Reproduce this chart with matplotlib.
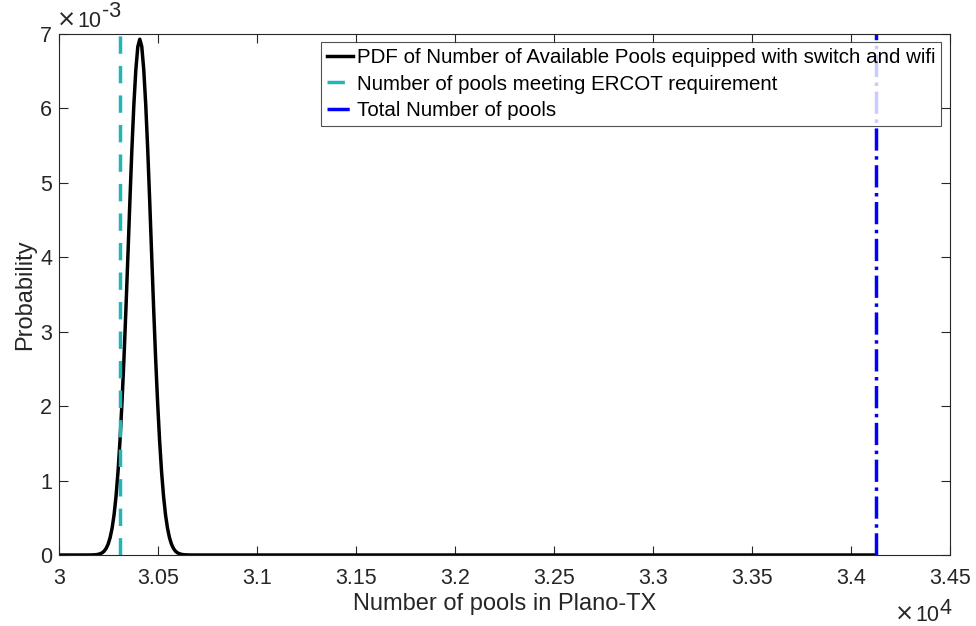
import matplotlib.pyplot as plt
from matplotlib.ticker import FuncFormatter

plt.rcParams['font.family'] = ['Liberation Sans', 'DejaVu Sans']

# PDF curve: number of pools and probability (x 1e-3)
pools = [30000, 30128, 30158, 30178, 30193, 30208, 30218, 30228, 30238, 30248,
         30258, 30268, 30278, 30288, 30298, 30308, 30318, 30328, 30338, 30348,
         30358, 30368, 30378, 30388, 30398, 30408, 30418, 30428, 30438, 30448,
         30458, 30468, 30478, 30488, 30498, 30508, 30518, 30528, 30538, 30548,
         30558, 30568, 30578, 30588, 30598, 30608, 30623, 30638, 30658, 30688,
         34126]
prob = [0, 0, 0.00056, 0.0024, 0.0065, 0.017, 0.030, 0.052, 0.089, 0.146,
        0.233, 0.36, 0.54, 0.79, 1.12, 1.54, 2.05, 2.64, 3.31, 4.03,
        4.76, 5.45, 6.05, 6.52, 6.83, 6.93, 6.83, 6.52, 6.05, 5.45,
        4.76, 4.03, 3.31, 2.64, 2.05, 1.54, 1.12, 0.79, 0.54, 0.36,
        0.233, 0.146, 0.089, 0.052, 0.030, 0.017, 0.0065, 0.0024, 0.00056, 0,
        0]

ercot_pools = 30308
total_pools = 34126

labels = ["PDF of Number of Available Pools equipped with switch and wifi",
          "Number of pools meeting ERCOT requirement",
          "Total Number of pools"]

fig = plt.figure(figsize=(9.76, 6.26), dpi=100)
ax = fig.add_axes([0.0605, 0.1134, 0.9125, 0.8323])

ax.plot(pools, prob, color='black', lw=2.5, label=labels[0])
ax.plot([ercot_pools, ercot_pools], [0, 7], color='#22b5b5', lw=2.5,
        dashes=(5, 3.5), label=labels[1])
ax.plot([total_pools, total_pools], [0, 7], color='#0000ff', lw=2.5,
        linestyle='-.', label=labels[2])

ax.set_xlim(30000, 34500)
ax.set_ylim(0, 7)
ax.set_xticks([30000 + 500 * i for i in range(10)])
ax.set_yticks(range(8))
ax.xaxis.set_major_formatter(FuncFormatter(lambda v, p: f"{v / 1e4:g}"))

gray = '#262626'
ax.tick_params(direction='in', top=True, right=True, length=6.5, width=0.8,
               labelsize=15.5, colors=gray)
ax.tick_params(axis='x', pad=9)
ax.tick_params(axis='y', pad=5)
for s in ax.spines.values():
    s.set_color(gray)
    s.set_linewidth(0.8)

ax.set_xlabel("Number of pools in Plano-TX", fontsize=17, color=gray, labelpad=3)
ax.set_ylabel("Probability", fontsize=17, color=gray, labelpad=3)

# exponent labels, MATLAB style
W, H = 976, 626
fig.text(76 / W, 1 - 27 / H, "×", fontsize=16.5, color=gray, va='baseline',
         ha='right', family='DejaVu Sans')
fig.text(77 / W, 1 - 27 / H, "10", fontsize=15.5, color=gray, va='baseline')
fig.text(102 / W, 1 - 17 / H, "-3", fontsize=15.5, color=gray, va='baseline')
fig.text(914 / W, 1 - 621 / H, "×", fontsize=16.5, color=gray, va='baseline',
         ha='right', family='DejaVu Sans')
fig.text(915 / W, 1 - 621 / H, "10", fontsize=15.5, color=gray, va='baseline')
fig.text(940 / W, 1 - 614 / H, "4", fontsize=15.5, color=gray, va='baseline')

leg = ax.legend(loc='upper right', fontsize=14.8, frameon=True, fancybox=False,
                edgecolor=gray, handlelength=1.25, handletextpad=0.2,
                borderaxespad=0.4, labelspacing=0.35, borderpad=0.3)
leg.get_frame().set_linewidth(0.8)

fig.savefig("out.png", dpi=100)
